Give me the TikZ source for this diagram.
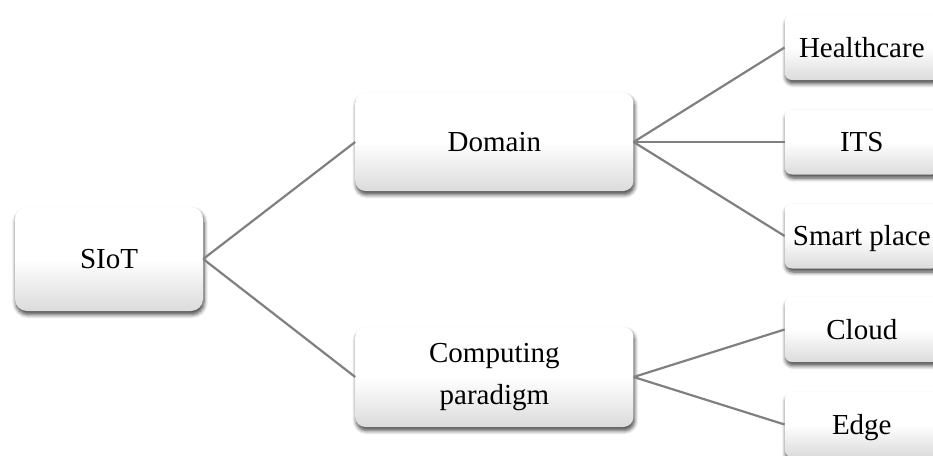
\documentclass[tikz,border=0pt]{standalone}
\usepackage{fontspec}
\setmainfont{Liberation Serif}
\usetikzlibrary{positioning,shadows.blur}

\tikzset{
  box/.style={rectangle, rounded corners=10pt, inner sep=0pt,
    top color=white, bottom color=black!14, middle color=white,
    blur shadow={shadow xshift=1pt, shadow yshift=-3.5pt, shadow blur radius=4pt, shadow blur steps=6, shadow opacity=75},
    font=\fontsize{29}{42}\selectfont, align=center},
  onebox/.style={box, text height=19pt, text depth=0pt},
  leaf/.style={onebox, rounded corners=7pt, minimum width=154pt, minimum height=65pt},
  link/.style={draw=black!50, line width=2.2pt}
}

\begin{document}
\begin{tikzpicture}[x=1pt, y=-1pt, node distance=152pt]
  \useasboundingbox (0,0) rectangle (933,455);

  \node[onebox, minimum width=188pt, minimum height=104pt, rounded corners=12pt] (siot) at (109,259) {SIoT};
  \node[onebox, minimum width=278pt, minimum height=98pt] (domain) [right=of siot, yshift=117pt] {Domain};
  \node[box, minimum width=278pt, minimum height=100pt] (comp) [right=of siot, yshift=-118pt] {Computing\\paradigm};

  \node[leaf] (health) [right=151pt of domain, yshift=94.5pt] {Healthcare};
  \node[leaf] (its)    [right=151pt of domain]                {ITS};
  \node[leaf] (smart)  [right=151pt of domain, yshift=-94pt]  {Smart place};
  \node[leaf] (cloud)  [right=151pt of comp, yshift=47.5pt]   {Cloud};
  \node[leaf] (edge)   [right=151pt of comp, yshift=-47.5pt]  {Edge};

  \path[link] (siot.east)   edge (domain.west)
                            edge (comp.west)
              (domain.east) edge (health.west)
                            edge (its.west)
                            edge (smart.west)
              (comp.east)   edge (cloud.west)
                            edge (edge.west);
\end{tikzpicture}
\end{document}
